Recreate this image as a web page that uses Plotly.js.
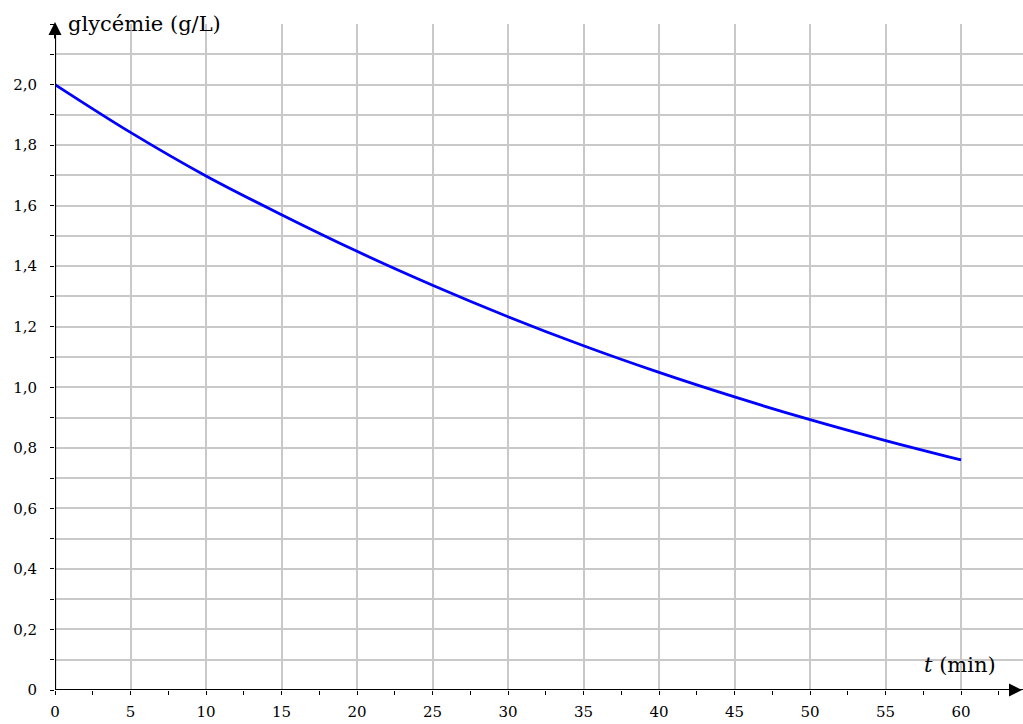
<!DOCTYPE html>
<html>
<head>
<meta charset="utf-8">
<script src="https://cdn.plot.ly/plotly-3.0.1.min.js"></script>
<style>html,body{margin:0;padding:0;background:#fff;}#chart{width:1023px;height:724px;}</style>
</head>
<body>
<div id="chart"></div>
<script>
const timeMin = [0, 5, 10, 15, 20, 25, 30, 35, 40, 45, 50, 55, 60];
const glycemia = [2.0, 1.842, 1.698, 1.570, 1.449, 1.337, 1.233, 1.137, 1.049, 0.968, 0.893, 0.824, 0.760];
const xTickVals = [0, 5, 10, 15, 20, 25, 30, 35, 40, 45, 50, 55, 60];
const xTickText = ['0','5','10','15','20','25','30','35','40','45','50','55','60'];
const yTickVals = [0, 0.2, 0.4, 0.6, 0.8, 1.0, 1.2, 1.4, 1.6, 1.8, 2.0];
const yTickText = ['0','0,2','0,4','0,6','0,8','1,0','1,2','1,4','1,6','1,8','2,0'];

const serif = 'DejaVu Serif, serif';
const gridColor = '#c9c9c9';

const trace = {
  x: timeMin, y: glycemia, mode: 'lines', type: 'scatter',
  line: {color: '#0000ff', width: 2.8, shape: 'spline', smoothing: 1},
  hoverinfo: 'skip', cliponaxis: false
};

const layout = {
  width: 1023, height: 724,
  margin: {l: 55, r: 0, t: 24, b: 34},
  paper_bgcolor: '#fff', plot_bgcolor: '#fff',
  showlegend: false,
  font: {family: serif, size: 15, color: '#000'},
  xaxis: {
    range: [0, 64.1], tickvals: xTickVals, ticktext: xTickText,
    showgrid: true, gridcolor: gridColor, gridwidth: 2,
    zeroline: false, showline: false,
    ticks: 'outside', ticklen: 4, tickwidth: 1, tickcolor: '#000',
    minor: {dtick: 2.5, tick0: 0, ticks: 'outside', ticklen: 4, tickwidth: 1, tickcolor: '#000', showgrid: false},
    tickfont: {family: serif, size: 15, color: '#000'},
    ticklabelstandoff: 4,
    fixedrange: true
  },
  yaxis: {
    range: [0, 2.2], tickvals: yTickVals, ticktext: yTickText,
    showgrid: true, gridcolor: gridColor, gridwidth: 2,
    zeroline: false, showline: false,
    ticks: 'outside', ticklen: 4, tickwidth: 1, tickcolor: '#000',
    minor: {dtick: 0.1, tick0: 0, ticks: 'outside', ticklen: 4, tickwidth: 1, tickcolor: '#000', showgrid: true, gridcolor: gridColor, gridwidth: 2},
    tickfont: {family: serif, size: 15, color: '#000'},
    ticklabelstandoff: 10,
    fixedrange: true
  },
  shapes: [
    {type: 'line', xref: 'x', yref: 'paper', x0: 0, x1: 0, y0: 0, y1: 0.985, line: {color: '#000', width: 2.2}},
    {type: 'line', xref: 'paper', yref: 'y', x0: 0, x1: 1.0, y0: 0, y1: 0, line: {color: '#000', width: 2.2}}
  ],
  annotations: [
    {xref: 'x', yref: 'paper', x: 0, y: 1.003, ax: 0, ay: 18,
     showarrow: true, arrowhead: 2, arrowsize: 1.3, arrowwidth: 2, arrowcolor: '#000', text: ''},
    {xref: 'paper', yref: 'y', x: 1.009, y: 0, ax: -16, ay: 0,
     showarrow: true, arrowhead: 2, arrowsize: 1.3, arrowwidth: 2, arrowcolor: '#000', text: ''},
    {xref: 'x', yref: 'paper', x: 0.75, y: 1.0, xanchor: 'left', yanchor: 'middle', showarrow: false,
     text: 'glycémie (g/L)', font: {family: serif, size: 21, color: '#000'}},
    {xref: 'x', yref: 'y', x: 62.45, y: 0.083, xanchor: 'right', yanchor: 'middle', showarrow: false,
     text: '<i>t</i> (min)', font: {family: serif, size: 21, color: '#000'}}
  ]
};

Plotly.newPlot('chart', [trace], layout, {displayModeBar: false, staticPlot: true});
</script>
</body>
</html>
